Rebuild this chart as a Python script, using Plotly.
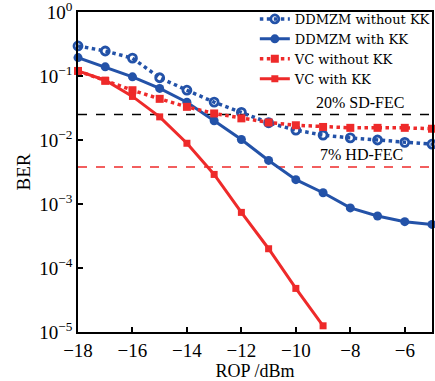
import plotly.graph_objects as go

rop = [-18, -17, -16, -15, -14, -13, -12, -11, -10, -9, -8, -7, -6, -5]
ddmzm_wo_kk = [0.295, 0.246, 0.19, 0.094, 0.060, 0.039, 0.027, 0.0186, 0.0143, 0.0119, 0.0108, 0.0100, 0.0092, 0.0086]
ddmzm_w_kk = [0.194, 0.139, 0.097, 0.064, 0.039, 0.020, 0.0102, 0.0048, 0.0024, 0.0015, 0.00087, 0.00065, 0.00053, 0.00048]
vc_wo_kk = [0.12, 0.084, 0.060, 0.044, 0.033, 0.026, 0.0218, 0.0188, 0.017, 0.016, 0.0155, 0.0155, 0.0155, 0.015]
rop_vc_kk = [-18, -17, -16, -15, -14, -13, -12, -11, -10, -9]
vc_w_kk = [0.12, 0.086, 0.048, 0.023, 0.0089, 0.0029, 0.00074, 0.0002, 4.8e-5, 1.25e-5]

sd_fec = 0.025
hd_fec = 0.0038

blue = "#2352a8"
red = "#ee2a2a"
font = "Liberation Serif"

fig = go.Figure()
fig.add_trace(go.Scatter(x=rop, y=ddmzm_wo_kk, name="DDMZM without KK", mode="lines+markers",
                         line=dict(color=blue, width=3.5, dash="dot"),
                         marker=dict(symbol="circle-open", size=8, color=blue, line=dict(width=2.8)),
                         cliponaxis=False))
fig.add_trace(go.Scatter(x=rop, y=ddmzm_w_kk, name="DDMZM with KK", mode="lines+markers",
                         line=dict(color=blue, width=3),
                         marker=dict(symbol="circle", size=9, color=blue),
                         cliponaxis=False))
fig.add_trace(go.Scatter(x=rop, y=vc_wo_kk, name="VC without KK", mode="lines+markers",
                         line=dict(color=red, width=3.5, dash="dot"),
                         marker=dict(symbol="square", size=8, color=red),
                         cliponaxis=False))
fig.add_trace(go.Scatter(x=rop_vc_kk, y=vc_w_kk, name="VC with KK", mode="lines+markers",
                         line=dict(color=red, width=3),
                         marker=dict(symbol="square", size=7, color=red),
                         cliponaxis=False))

fig.add_shape(type="line", xref="x", yref="y", x0=-18, x1=-5, y0=sd_fec, y1=sd_fec,
              line=dict(color="black", width=1.5, dash="dash"), layer="below")
fig.add_shape(type="line", xref="x", yref="y", x0=-18, x1=-5, y0=hd_fec, y1=hd_fec,
              line=dict(color=red, width=1.5, dash="dash"), layer="below")

fig.add_annotation(x=-7.65, y=-1.42, xref="x", yref="y", text="20% SD-FEC", showarrow=False,
                   font=dict(family=font, size=16, color="black"))
fig.add_annotation(x=-7.58, y=-2.23, xref="x", yref="y", text="7% HD-FEC", showarrow=False,
                   font=dict(family=font, size=16, color="black"))

yt = [1, 0.1, 0.01, 0.001, 0.0001, 0.00001]
ytt = ["10<sup>0</sup>", "10<sup>−1</sup>", "10<sup>−2</sup>", "10<sup>−3</sup>", "10<sup>−4</sup>", "10<sup>−5</sup>"]
xt = [-18, -16, -14, -12, -10, -8, -6]
xtt = ["−18", "−16", "−14", "−12", "−10", "−8", "−6"]

fig.update_layout(
    width=435, height=381,
    margin=dict(l=78, r=3, t=12, b=49, autoexpand=False),
    plot_bgcolor="white", paper_bgcolor="white",
    font=dict(family=font, color="black"),
    showlegend=True,
    legend=dict(x=1.008, y=1.025, xanchor="right", yanchor="top", bgcolor="rgba(255,255,255,0)",
                font=dict(family="DejaVu Serif", size=13), tracegroupgap=0, itemwidth=30),
    xaxis=dict(range=[-18, -5], tickvals=xt, ticktext=xtt, ticks="inside", ticklen=5,
               tickwidth=1.5, tickcolor="black", showline=True, linecolor="black", linewidth=1.5,
               mirror=True, showgrid=False, zeroline=False,
               tickfont=dict(family=font, size=19),
               title=dict(text="ROP /dBm", font=dict(family=font, size=18), standoff=2)),
    yaxis=dict(type="log", range=[-5, 0.0005], tickvals=yt, ticktext=ytt, ticks="inside", ticklen=5,
               tickwidth=1.5, tickcolor="black", showline=True, linecolor="black", linewidth=1.5,
               mirror=True, showgrid=False, zeroline=False, ticklabeloverflow="allow",
               tickfont=dict(family=font, size=19),
               title=dict(text="BER", font=dict(family=font, size=19), standoff=4)),
)

fig.write_html("out.html")
